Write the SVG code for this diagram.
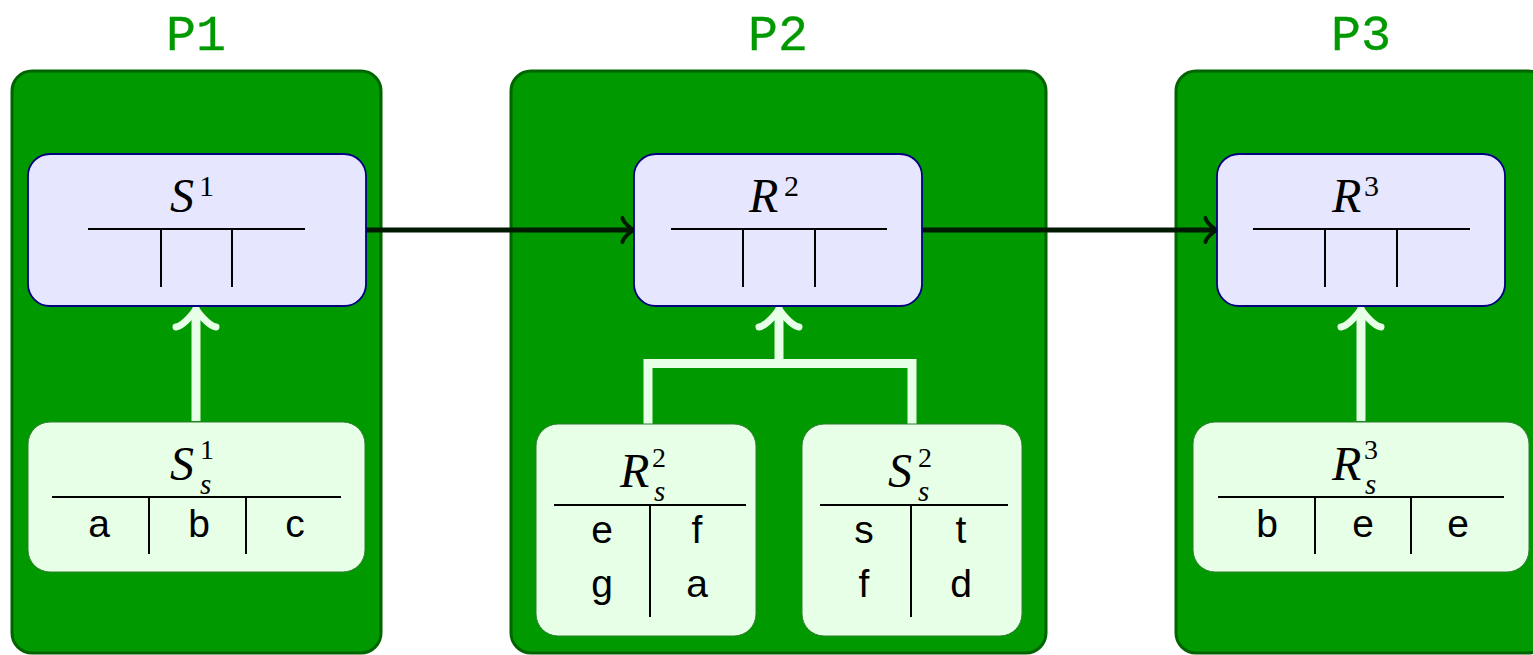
<svg xmlns="http://www.w3.org/2000/svg" width="1533" height="655" viewBox="0 0 1533 655">
<style>
.part{fill:#009900;stroke:#006400;stroke-width:3}
.plab{font-family:"Liberation Mono",monospace;font-size:50px;fill:#009900;stroke:#009900;stroke-width:0.3;text-anchor:middle}
.rel{fill:#e6e6ff;stroke:#000080;stroke-width:1.8}
.frag{fill:#e6ffe6;stroke:#2f7d2f;stroke-width:1}
.tl{stroke:#000;stroke-width:2;fill:none}
.m{font-family:"Liberation Serif",serif;font-style:italic;font-size:48px;fill:#000}
.sup{font-family:"Liberation Serif",serif;font-size:30px;fill:#000}
.ss{font-family:"Liberation Serif",serif;font-size:28px;fill:#000}
.sub{font-family:"Liberation Serif",serif;font-style:italic;font-size:29px;fill:#000}
.cell{font-family:"Liberation Sans",sans-serif;font-size:39px;fill:#000;text-anchor:middle}
.blk{stroke:#001a00;stroke-width:5;fill:none}
.wht{stroke:#e6ffe6;stroke-width:9;fill:none}
</style>
<defs>
<marker id="ab" markerUnits="userSpaceOnUse" orient="auto" refX="0" refY="0" markerWidth="30" markerHeight="30" overflow="visible">
<path d="M-9,12 C-8.25,7.5 0,0.75 2.25,0 C0,-0.75 -8.25,-7.5 -9,-12" fill="none" stroke="#001a00" stroke-width="4" stroke-linecap="round" stroke-linejoin="round"/>
</marker>
<marker id="aw" markerUnits="userSpaceOnUse" orient="auto" refX="0" refY="0" markerWidth="40" markerHeight="40" overflow="visible">
<path d="M-15,20 C-13.75,12.5 0,1.25 3.75,0 C0,-1.25 -13.75,-12.5 -15,-20" fill="none" stroke="#e6ffe6" stroke-width="7" stroke-linecap="round" stroke-linejoin="round"/>
</marker>
</defs>

<g id="P1">
<rect class="part" x="12" y="71" width="369" height="582" rx="20"/>
<text class="plab" x="196" y="50">P1</text>
</g>
<g id="P2">
<rect class="part" x="511" y="71" width="535" height="582" rx="20"/>
<text class="plab" x="778" y="50">P2</text>
</g>
<g id="P3">
<rect class="part" x="1176" y="71" width="372" height="582" rx="20"/>
<text class="plab" x="1361" y="50">P3</text>
</g>

<g id="connectors">
<line class="blk" x1="366" y1="230" x2="631.5" y2="230" marker-end="url(#ab)"/>
<line class="blk" x1="922" y1="230" x2="1214.5" y2="230" marker-end="url(#ab)"/>
<line class="wht" x1="196" y1="421" x2="196" y2="312" marker-end="url(#aw)"/>
<path class="wht" d="M648,424 V363.5 H912 V424"/>
<line class="wht" x1="779" y1="364" x2="779" y2="312" marker-end="url(#aw)"/>
<line class="wht" x1="1361" y1="421" x2="1361" y2="312" marker-end="url(#aw)"/>
</g>

<g id="S1">
<rect class="rel" x="28" y="154" width="338" height="152" rx="22"/>
<text class="m" x="170" y="212">S</text><text class="sup" x="199" y="196">1</text>
<path class="tl" d="M88,229 H305 M161,229 V287 M232,229 V287"/>
</g>
<g id="R2">
<rect class="rel" x="634" y="154" width="288" height="152" rx="22"/>
<text class="m" x="749" y="212">R</text><text class="sup" x="784" y="196">2</text>
<path class="tl" d="M671,229 H887 M743,229 V287 M815,229 V287"/>
</g>
<g id="R3">
<rect class="rel" x="1217" y="154" width="288" height="152" rx="22"/>
<text class="m" x="1332" y="212">R</text><text class="sup" x="1364" y="196">3</text>
<path class="tl" d="M1253,229 H1470 M1325,229 V287 M1397,229 V287"/>
</g>

<g id="Ss1">
<rect class="frag" x="28" y="422" width="337" height="150" rx="22"/>
<text class="m" x="170" y="480">S</text><text class="ss" x="200" y="459">1</text><text class="sub" x="200" y="494">s</text>
<path class="tl" d="M52,497 H341 M149,497 V554 M246,497 V554"/>
<text class="cell" x="99" y="537">a</text>
<text class="cell" x="199" y="537">b</text>
<text class="cell" x="295" y="537">c</text>
</g>
<g id="Rs2">
<rect class="frag" x="536" y="424" width="220" height="212" rx="22"/>
<text class="m" x="620" y="487">R</text><text class="ss" x="652" y="467">2</text><text class="sub" x="654" y="501">s</text>
<path class="tl" d="M554,505 H746 M650,505 V617"/>
<text class="cell" x="602" y="543">e</text>
<text class="cell" x="697" y="543">f</text>
<text class="cell" x="602" y="597">g</text>
<text class="cell" x="697" y="597">a</text>
</g>
<g id="Ss2">
<rect class="frag" x="802" y="424" width="220" height="212" rx="22"/>
<text class="m" x="888" y="487">S</text><text class="ss" x="918" y="467">2</text><text class="sub" x="918" y="501">s</text>
<path class="tl" d="M820,505 H1008 M911,505 V617"/>
<text class="cell" x="864" y="543">s</text>
<text class="cell" x="961" y="543">t</text>
<text class="cell" x="864" y="597">f</text>
<text class="cell" x="961" y="597">d</text>
</g>
<g id="Rs3">
<rect class="frag" x="1193" y="422" width="336" height="150" rx="22"/>
<text class="m" x="1332" y="480">R</text><text class="ss" x="1364" y="459">3</text><text class="sub" x="1365" y="494">s</text>
<path class="tl" d="M1218,497 H1504 M1315,497 V554 M1411,497 V554"/>
<text class="cell" x="1267" y="537">b</text>
<text class="cell" x="1363" y="537">e</text>
<text class="cell" x="1458" y="537">e</text>
</g>
</svg>
